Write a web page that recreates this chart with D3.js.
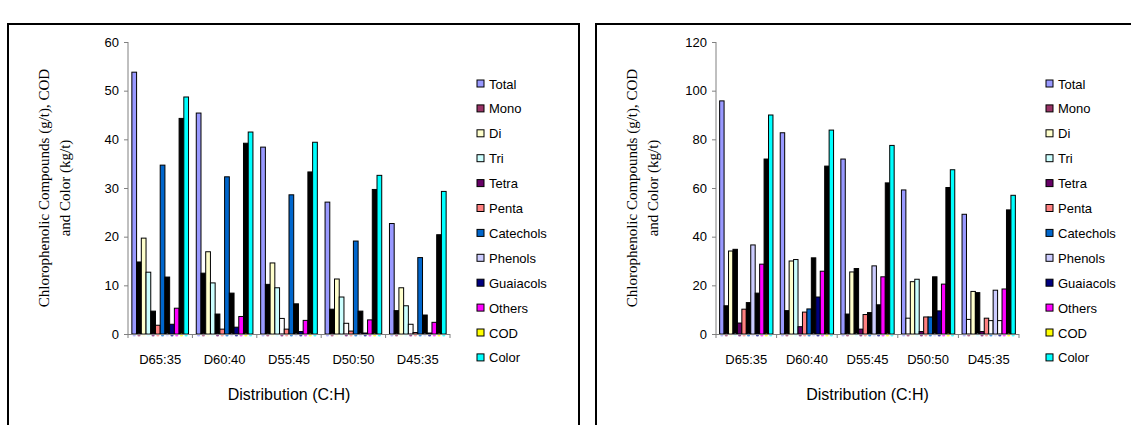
<!DOCTYPE html>
<html>
<head>
<meta charset="utf-8">
<script src="https://cdn.jsdelivr.net/npm/d3@7"></script>
<style>
  body { margin: 0; background: #fff; }
  svg { display: block; }
  .tick text { font-family: "Liberation Sans", Arial, sans-serif; font-size: 13px; fill: #000; }
  .axis path, .axis line { stroke: #808080; }
</style>
</head>
<body>
<svg id="chart" width="1131" height="425"></svg>
<script>
// categories and series
var categories = ["D65:35", "D60:40", "D55:45", "D50:50", "D45:35"];
var seriesNames = ["Total", "Mono", "Di", "Tri", "Tetra", "Penta", "Catechols",
  "Phenols", "Guaiacols", "Others", "COD", "Color"];
var seriesColors = ["#9999FF", "#993366", "#FFFFCC", "#CCFFFF", "#660066", "#FF8080",
  "#0066CC", "#CCCCFF", "#000080", "#FF00FF", "#FFFF00", "#00FFFF"];

// left panel values (g/t, kg/t)
var leftTotal = [53.8, 45.4, 38.4, 27.1, 22.7];
var leftMono = [14.8, 12.5, 10.2, 5.1, 4.8];
var leftDi = [19.7, 16.9, 14.6, 11.3, 9.5];
var leftTri = [12.7, 10.5, 9.5, 7.6, 5.8];
var leftTetra = [4.7, 4.1, 3.2, 2.2, 2.0];
var leftPenta = [1.8, 1.0, 1.0, 0.6, 0.3];
var leftCatechols = [34.7, 32.3, 28.6, 19.1, 15.7];
var leftPhenols = [11.7, 8.4, 6.2, 4.7, 3.9];
var leftGuaiacols = [2.0, 1.4, 0.5, 0.2, 0.2];
var leftOthers = [5.3, 3.6, 2.8, 2.9, 2.4];
var leftCOD = [44.3, 39.2, 33.3, 29.7, 20.4];
var leftColor = [48.7, 41.5, 39.4, 32.6, 29.3];

// right panel values
var rightTotal = [95.8, 82.7, 71.9, 59.2, 49.2];
var rightMono = [11.6, 9.6, 8.2, 6.5, 6.0];
var rightDi = [34.1, 30.0, 25.5, 21.5, 17.5];
var rightTri = [34.8, 30.6, 26.9, 22.5, 17.0];
var rightTetra = [4.5, 3.0, 2.0, 1.0, 1.0];
var rightPenta = [10.2, 9.0, 8.0, 7.0, 6.5];
var rightCatechols = [12.9, 10.3, 8.8, 7.0, 5.5];
var rightPhenols = [36.6, 31.3, 28.0, 23.5, 18.0];
var rightGuaiacols = [16.8, 15.2, 12.0, 9.5, 5.5];
var rightOthers = [28.7, 25.8, 23.5, 20.5, 18.5];
var rightCOD = [71.9, 69.0, 62.1, 60.2, 51.0];
var rightColor = [90.0, 83.8, 77.5, 67.5, 57.0];

var leftTicks = [0, 10, 20, 30, 40, 50, 60];
var rightTicks = [0, 20, 40, 60, 80, 100, 120];

// bars that print dark (k) or blank (w) in the scanned figure, per group
var leftTone = [
  { Mono: "k", Tetra: "k", Phenols: "k", COD: "k" },
  { Mono: "k", Tetra: "k", Phenols: "k", COD: "k" },
  { Mono: "k", Tetra: "w", Phenols: "k", COD: "k" },
  { Mono: "k", Tetra: "w", Phenols: "k", COD: "k" },
  { Mono: "k", Tetra: "w", Phenols: "k", COD: "k" }
];
var rightTone = [
  { Mono: "k", Tri: "k", Catechols: "k", Guaiacols: "k", COD: "k" },
  { Mono: "k", Phenols: "k", COD: "k" },
  { Mono: "k", Tri: "k", Catechols: "k", Guaiacols: "k", COD: "k" },
  { Mono: "w", Phenols: "k", COD: "k" },
  { Mono: "w", Tri: "k", Catechols: "w", Guaiacols: "w", COD: "k" }
];

var svg = d3.select("#chart");

function drawPanel(cfg) {
  var g = svg.append("g");

  // frame
  g.append("rect")
    .attr("x", cfg.box[0]).attr("y", cfg.box[1])
    .attr("width", cfg.box[2]).attr("height", cfg.box[3])
    .attr("fill", "none").attr("stroke", "#000").attr("stroke-width", 2);

  var xScale = d3.scaleBand().domain(categories).range([cfg.x0, cfg.x1]).padding(0);
  var yScale = d3.scaleLinear().domain([0, cfg.max]).range([334, 42]);
  var inner = d3.scaleBand().domain(seriesNames)
    .range([xScale.bandwidth() * 0.06, xScale.bandwidth() * 0.94]).padding(0);

  // bars
  categories.forEach(function (cat, ci) {
    var rows = seriesNames.map(function (s, si) {
      return { name: s, value: cfg.values[si][ci], color: seriesColors[si] };
    });
    var grp = g.append("g").attr("transform", "translate(" + xScale(cat) + ",0)");
    grp.selectAll("rect")
      .data(rows)
      .join("rect")
      .attr("x", function (d) { return inner(d.name); })
      .attr("y", function (d) { return yScale(d.value); })
      .attr("width", inner.bandwidth())
      .attr("height", function (d) { return yScale(0) - yScale(d.value); })
      .attr("fill", function (d) {
        var t = cfg.tone[ci][d.name];
        if (t === "k") return "#000";
        if (t === "w") return "#fff";
        return d.color;
      })
      .attr("stroke", "#000")
      .attr("stroke-width", 1);
    // coloured feet under each bar, as in the scan
    grp.selectAll("circle")
      .data(rows)
      .join("circle")
      .attr("cx", function (d) { return inner(d.name) + inner.bandwidth() / 2; })
      .attr("cy", yScale(0) + 1)
      .attr("r", 1.6)
      .attr("fill", function (d) { return d.color; })
      .attr("opacity", 0.7);
  });

  // y axis
  g.append("g")
    .attr("class", "axis")
    .attr("transform", "translate(" + cfg.x0 + ",0)")
    .call(d3.axisLeft(yScale).tickValues(cfg.ticks).tickSize(4).tickSizeOuter(0).tickPadding(5))
    .select(".domain").attr("d", "M0," + yScale(cfg.max) + "V" + yScale(0));

  // x axis with ticks at category boundaries
  var xa = g.append("g").attr("class", "axis");
  xa.append("line")
    .attr("x1", cfg.x0).attr("x2", cfg.x1)
    .attr("y1", yScale(0) + 0.5).attr("y2", yScale(0) + 0.5)
    .attr("stroke", "#808080");
  var bounds = categories.map(function (c) { return xScale(c); }).concat([cfg.x1]);
  xa.selectAll(".xtick")
    .data(bounds)
    .join("line")
    .attr("x1", function (d) { return d; }).attr("x2", function (d) { return d; })
    .attr("y1", yScale(0)).attr("y2", yScale(0) + 4)
    .attr("stroke", "#808080");
  xa.selectAll(".xlab")
    .data(categories)
    .join("text")
    .attr("x", function (d) { return xScale(d) + xScale.bandwidth() / 2; })
    .attr("y", 364)
    .attr("text-anchor", "middle")
    .style("font-family", "Liberation Sans, Arial, sans-serif")
    .style("font-size", "13px")
    .text(function (d) { return d; });

  // axis titles
  g.append("text")
    .attr("x", (cfg.x0 + cfg.x1) / 2)
    .attr("y", 400)
    .attr("text-anchor", "middle")
    .style("font-family", "Liberation Sans, Arial, sans-serif")
    .style("font-size", "16px")
    .text("Distribution (C:H)");

  var yl = g.append("text")
    .attr("transform", "translate(" + cfg.labelX + ",188) rotate(-90)")
    .attr("text-anchor", "middle")
    .style("font-family", "Liberation Serif, Times New Roman, serif")
    .style("font-size", "15px");
  yl.append("tspan").attr("x", 0).attr("dy", 0).text("Chlorophenolic Compounds (g/t), COD");
  yl.append("tspan").attr("x", 0).attr("dy", 21).text("and Color (kg/t)");

  // legend
  var legend = g.append("g").attr("transform", "translate(" + cfg.legendX + ",84)");
  legend.selectAll("rect")
    .data(seriesNames)
    .join("rect")
    .attr("x", 0)
    .attr("y", function (d, i) { return i * 24.9 - 4; })
    .attr("width", 7).attr("height", 7)
    .attr("fill", function (d, i) { return seriesColors[i]; })
    .attr("stroke", "#000");
  legend.selectAll("text")
    .data(seriesNames)
    .join("text")
    .attr("x", 12)
    .attr("y", function (d, i) { return i * 24.9 + 4.5; })
    .style("font-family", "Liberation Sans, Arial, sans-serif")
    .style("font-size", "13px")
    .text(function (d) { return d; });
}

drawPanel({
  box: [8, 24, 571, 420],
  x0: 128, x1: 450, max: 60, ticks: leftTicks,
  values: [leftTotal, leftMono, leftDi, leftTri, leftTetra, leftPenta, leftCatechols,
    leftPhenols, leftGuaiacols, leftOthers, leftCOD, leftColor],
  tone: leftTone, labelX: 49, legendX: 477
});

drawPanel({
  box: [596, 24, 560, 420],
  x0: 716, x1: 1019, max: 120, ticks: rightTicks,
  values: [rightTotal, rightMono, rightDi, rightTri, rightTetra, rightPenta, rightCatechols,
    rightPhenols, rightGuaiacols, rightOthers, rightCOD, rightColor],
  tone: rightTone, labelX: 637, legendX: 1046
});
</script>
</body>
</html>
